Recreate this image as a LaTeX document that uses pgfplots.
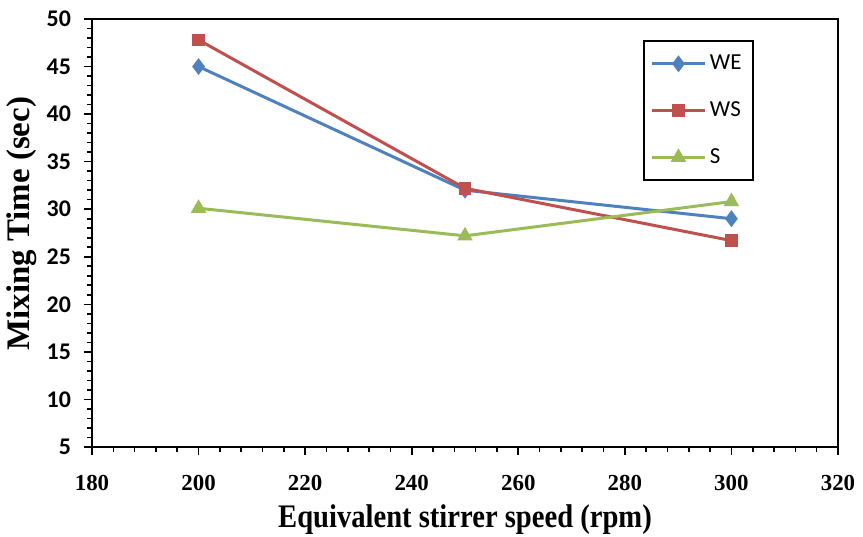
\documentclass[border=0pt]{standalone}
\usepackage{fontspec}
\setmainfont{Liberation Serif}
\newfontfamily\calibri{Carlito}
\usepackage{graphicx}
\usepackage{pgfplots}
\pgfplotsset{compat=1.18}
\usetikzlibrary{calc}
\definecolor{weblue}{HTML}{4F81BD}
\definecolor{wsred}{HTML}{C0504D}
\definecolor{sgreen}{HTML}{9BBB59}

\begin{document}
\begin{tikzpicture}
\begin{axis}[
  name=main,
  scale only axis,
  width=373bp, height=214bp,
  xmin=180, xmax=320, ymin=5, ymax=50,
  xtick={180,200,...,320}, ytick={5,10,...,50},
  minor x tick num=4, minor y tick num=4,
  xtick pos=bottom, ytick pos=left,
  tick align=outside,
  major tick length=4bp, minor tick length=2.5bp,
  axis line style={line width=1bp},
  tick style={line width=0.8bp, black},
  /pgf/number format/assume math mode=true,
  xticklabel style={font=\fontsize{11.5}{14}\selectfont\bfseries, yshift=-6.5bp},
  yticklabel style={font=\fontsize{12}{14}\selectfont\calibri\bfseries, xshift=-3bp},
  xlabel={\scalebox{0.87}[1]{Equivalent stirrer speed (rpm)}},
  ylabel={Mixing Time (sec)},
  label style={font=\fontsize{16.5}{19}\selectfont\bfseries},
  xlabel style={at={(axis description cs:0.5,0)}, yshift=-36.5bp, anchor=center},
  ylabel style={at={(axis description cs:-0.0938,0.522)}, anchor=center},
  legend style={at={(rel axis cs:0.7386,0.951)}, anchor=north west,
    draw=black, line width=1bp, font=\fontsize{11.5}{13}\selectfont\calibri,
    row sep=10.5bp, inner ysep=5bp, inner xsep=3.5bp},
  legend cell align=left,
  legend image code/.code={\draw[mark repeat=2,mark phase=2] plot coordinates {(0bp,0bp) (13bp,0bp) (26bp,0bp)};},
  every axis plot/.append style={line width=1.5bp},
]
\addplot[color=weblue, mark=diamond*, mark size=3bp, mark options={solid, fill=weblue}]
  coordinates {(200,45.0) (250,32.0) (300,29.0)};
\addlegendentry{WE}
\addplot[color=wsred, mark=square*, mark size=2.4bp, mark options={solid, fill=wsred}]
  coordinates {(200,47.8) (250,32.2) (300,26.7)};
\addlegendentry{WS}
\addplot[color=sgreen, mark=triangle*, mark size=3bp, mark options={solid, fill=sgreen}]
  coordinates {(200,30.1) (250,27.2) (300,30.8)};
\addlegendentry{S}
\end{axis}
\pgfresetboundingbox
\path ($(main.south west)+(-46bp,-45bp)$) rectangle ($(main.north east)+(12.5bp,9.5bp)$);
\end{tikzpicture}
\end{document}
